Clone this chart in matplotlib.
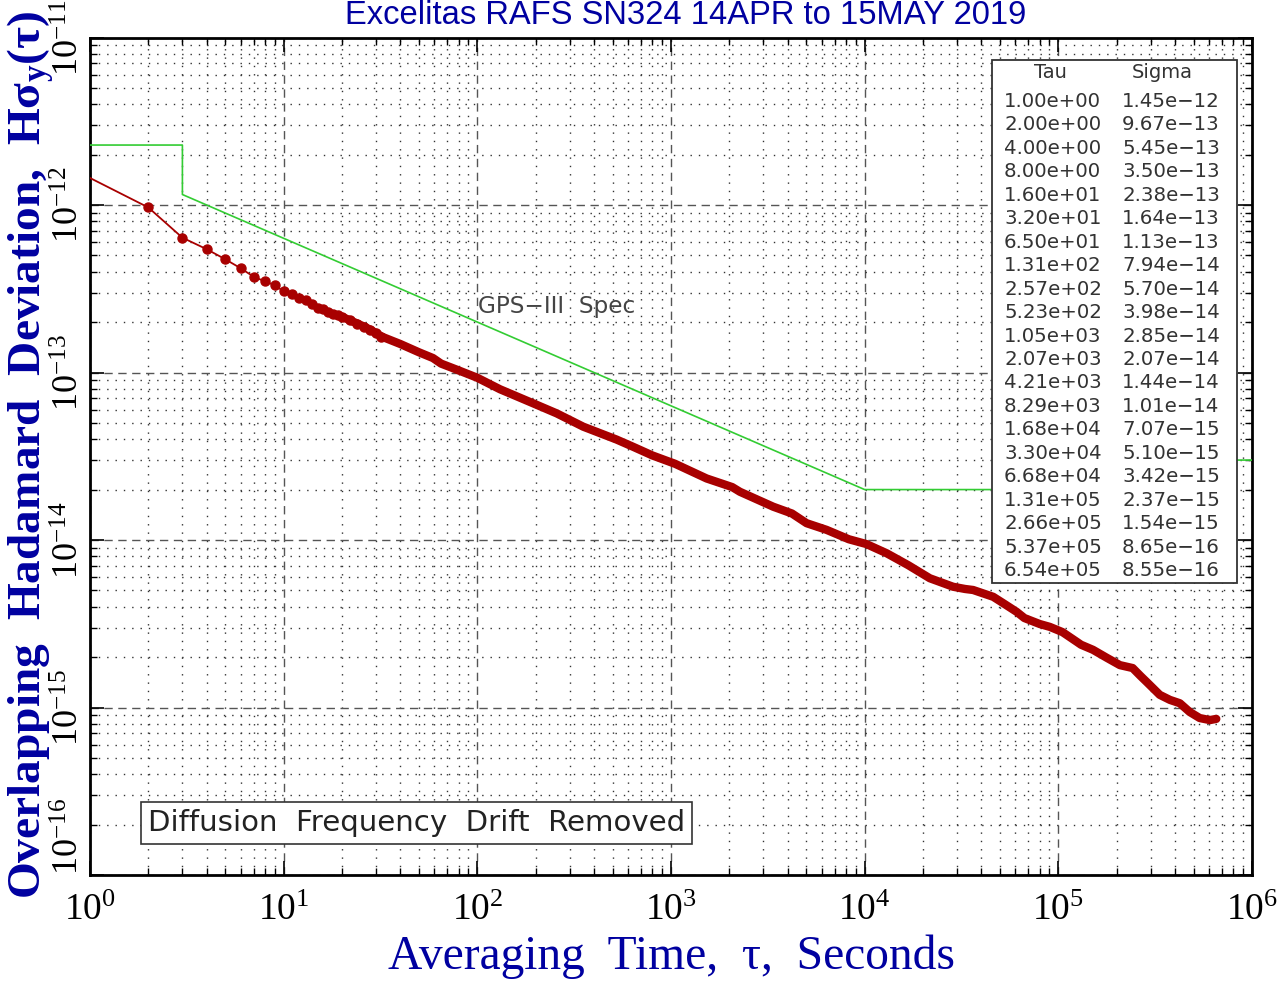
import numpy as np
import matplotlib
matplotlib.use("Agg")
import matplotlib.pyplot as plt
from matplotlib.ticker import LogLocator, NullFormatter, FixedLocator, FixedFormatter

plt.rcParams['mathtext.fontset'] = 'custom'
plt.rcParams['mathtext.rm'] = 'Liberation Serif'
plt.rcParams['mathtext.it'] = 'Liberation Serif:italic'
plt.rcParams['mathtext.bf'] = 'Liberation Serif:bold'

# Overlapping Hadamard deviation
tau = [1, 2, 3, 4, 5, 6, 7, 8, 9, 10, 11, 12, 13, 14, 15, 16, 17, 18, 19, 20,
       22, 24, 26, 28, 30, 32, 40, 50, 59, 65, 80, 100, 131, 160, 194, 257,
       352, 523, 638, 800, 1050, 1527, 2070, 2270, 3373, 4210, 5012, 6353,
       8290, 10200, 13000, 16800, 21700, 28600, 33000, 36300, 46100, 51700,
       60800, 66800, 80200, 90300, 105000, 125000, 131000, 151000, 178000,
       208000, 242000, 266000, 286000, 334000, 377000, 424000, 477000,
       537000, 606000, 654000]
sigma = [1.45e-12, 9.67e-13, 6.38e-13, 5.45e-13, 4.74e-13, 4.19e-13, 3.73e-13,
         3.50e-13, 3.32e-13, 3.05e-13, 2.93e-13, 2.80e-13, 2.70e-13, 2.56e-13,
         2.44e-13, 2.38e-13, 2.31e-13, 2.25e-13, 2.19e-13, 2.15e-13, 2.05e-13,
         1.96e-13, 1.88e-13, 1.80e-13, 1.72e-13, 1.64e-13, 1.48e-13, 1.32e-13,
         1.22e-13, 1.13e-13, 1.03e-13, 9.3e-14, 7.94e-14, 7.2e-14, 6.55e-14,
         5.70e-14, 4.75e-14, 3.98e-14, 3.6e-14, 3.2e-14, 2.85e-14, 2.33e-14,
         2.07e-14, 1.94e-14, 1.58e-14, 1.44e-14, 1.26e-14, 1.15e-14, 1.01e-14,
         9.46e-15, 8.33e-15, 7.07e-15, 5.91e-15, 5.26e-15, 5.10e-15, 5.03e-15,
         4.58e-15, 4.21e-15, 3.73e-15, 3.42e-15, 3.15e-15, 3.03e-15, 2.82e-15,
         2.46e-15, 2.37e-15, 2.21e-15, 1.98e-15, 1.79e-15, 1.72e-15, 1.54e-15,
         1.42e-15, 1.19e-15, 1.11e-15, 1.06e-15, 9.4e-16, 8.65e-16, 8.41e-16,
         8.55e-16]

# GPS-III spec breakpoints
spec_tau = [1, 3, 3, 1e4, 1e5, 1e5, 1e6]
spec_sigma = [2.28e-12, 2.28e-12, 1.155e-12, 2.0e-14, 2.0e-14, 3.0e-14, 3.0e-14]

# table in the box
table_tau = [1.00e+00, 2.00e+00, 4.00e+00, 8.00e+00, 1.60e+01, 3.20e+01, 6.50e+01,
             1.31e+02, 2.57e+02, 5.23e+02, 1.05e+03, 2.07e+03, 4.21e+03, 8.29e+03,
             1.68e+04, 3.30e+04, 6.68e+04, 1.31e+05, 2.66e+05, 5.37e+05, 6.54e+05]
table_sigma = [1.45e-12, 9.67e-13, 5.45e-13, 3.50e-13, 2.38e-13, 1.64e-13, 1.13e-13,
               7.94e-14, 5.70e-14, 3.98e-14, 2.85e-14, 2.07e-14, 1.44e-14, 1.01e-14,
               7.07e-15, 5.10e-15, 3.42e-15, 2.37e-15, 1.54e-15, 8.65e-16, 8.55e-16]

W, H = 1287, 985
fig = plt.figure(figsize=(W / 100, H / 100), dpi=100)
ax = fig.add_axes([90 / W, 1 - 875 / H, (1252 - 90) / W, (875 - 37.5) / H])

red = '#a80000'
green = '#33cc33'
blue = '#0000a0'


def ax_xy(px, py):
    # pixel position -> axes fraction
    return (px - 90) / (1252 - 90), 1 - (py - 37.5) / (875 - 37.5)


ax.plot(spec_tau, spec_sigma, color=green, lw=1.2, zorder=3)

t = np.array(tau)
s = np.array(sigma)
ax.plot(t, s, color=red, lw=1.3, zorder=4)
ax.plot(t[(t > 1) & (t <= 32)], s[(t > 1) & (t <= 32)], 'o', color=red,
        ms=6.5, zorder=5)
ax.plot(t[t >= 20], s[t >= 20], color=red, lw=6, solid_capstyle='round',
        solid_joinstyle='round', zorder=5)

ax.set_xscale('log')
ax.set_yscale('log')
ax.set_xlim(1, 1e6)
ax.set_ylim(1e-16, 1e-11)

# grid
ax.xaxis.set_minor_locator(LogLocator(base=10, subs=np.arange(2, 10), numticks=20))
ax.yaxis.set_minor_locator(LogLocator(base=10, subs=np.arange(2, 10), numticks=20))
ax.xaxis.set_minor_formatter(NullFormatter())
ax.yaxis.set_minor_formatter(NullFormatter())
ax.grid(which='major', linestyle=(0, (6, 4)), color='#555555', lw=1)
ax.grid(which='minor', linestyle=(0, (1, 5)), color='#333333', lw=1)
ax.set_axisbelow(True)

ax.xaxis.set_major_locator(FixedLocator([10.0 ** k for k in range(0, 7)]))
ax.xaxis.set_major_formatter(FixedFormatter(
    [r'$\mathregular{10^{%d}}$' % k for k in range(0, 7)]))
ax.yaxis.set_major_locator(FixedLocator([10.0 ** k for k in range(-16, -10)]))
ax.yaxis.set_major_formatter(FixedFormatter(
    [r'$\mathregular{10^{%d}}$' % k for k in range(-16, -10)]))
ax.tick_params(which='both', direction='in', top=True, right=True, colors='black')
ax.tick_params(which='major', length=10, width=1.2)
ax.tick_params(which='minor', length=5, width=1)
ax.tick_params(axis='x', pad=13, labelsize=27)
ax.tick_params(axis='y', pad=2, labelsize=26, labelrotation=90)
for lab in ax.get_xticklabels() + ax.get_yticklabels():
    lab.set_fontfamily('Liberation Serif')
ylabs = ax.get_yticklabels()
for lab in ylabs:
    lab.set_va('center')
ylabs[0].set_va('bottom')  # lowest label kept inside the frame
for sp in ax.spines.values():
    sp.set_linewidth(2)

# table box
tcol = '#333333'
ax.text(*ax_xy(1050, 73), 'Tau', transform=ax.transAxes, ha='center',
        va='center', fontsize=14, color=tcol, fontfamily='DejaVu Sans', zorder=11)
ax.text(*ax_xy(1162, 73), 'Sigma', transform=ax.transAxes, ha='center',
        va='center', fontsize=14, color=tcol, fontfamily='DejaVu Sans', zorder=11)
for i, (a, b) in enumerate(zip(table_tau, table_sigma)):
    py = 101.5 + i * 23.45
    ax.text(*ax_xy(1004, py), '{:.2e}'.format(a).replace('-', '\u2212'),
            transform=ax.transAxes, ha='left', va='center', fontsize=14.2,
            color=tcol, fontfamily='DejaVu Sans', zorder=11)
    ax.text(*ax_xy(1122, py), '{:.2e}'.format(b).replace('-', '\u2212'),
            transform=ax.transAxes, ha='left', va='center', fontsize=14.2,
            color=tcol, fontfamily='DejaVu Sans', zorder=11)
x0, y0 = ax_xy(992, 583)
box = plt.Rectangle((x0, y0), (1237 - 992) / (1252 - 90), (583 - 60) / (875 - 37.5),
                    transform=ax.transAxes, facecolor='white', edgecolor='#333333',
                    lw=1.3, zorder=10)
ax.add_patch(box)

gps = ax.text(*ax_xy(478, 307), 'GPS\u2212III  Spec', transform=ax.transAxes,
              ha='left', va='center', fontsize=15, color='#444444',
              fontfamily='DejaVu Sans', zorder=6)

fig.canvas.draw()
r = fig.canvas.get_renderer()


def fit(txt, target, vertical=False):
    bb = txt.get_window_extent(r)
    cur = bb.height if vertical else bb.width
    txt.set_fontsize(txt.get_fontsize() * target / cur)


fit(gps, 158)

dtxt = ax.text(*ax_xy(148, 823), 'Diffusion  Frequency  Drift  Removed',
               transform=ax.transAxes, ha='left', va='center', fontsize=18,
               color='#222222', fontfamily='DejaVu Sans', zorder=8,
               bbox=dict(boxstyle='square,pad=0.25', facecolor='white',
                         edgecolor='#333333', lw=1.2))
fit(dtxt, 538)

title = fig.text(686 / W, 1 - 15 / H, 'Excelitas RAFS SN324 14APR to 15MAY 2019',
                 ha='center', va='center', fontsize=20, color=blue,
                 fontfamily='Liberation Sans')
fit(title, 682)

xl = fig.text(672 / W, 1 - 957 / H, 'Averaging  Time,  \u03c4,  Seconds',
              ha='center', va='center', fontsize=28, color=blue,
              fontfamily='Liberation Serif')
fit(xl, 568)

yl = fig.text(31 / W, 1 - 455 / H,
              'Overlapping  Hadamard  Deviation,  H\u03c3$_\\mathbf{y}$(\u03c4)',
              ha='center', va='center', rotation=90, fontsize=32, color=blue,
              fontfamily='Liberation Serif', fontweight='bold')
fit(yl, 890, vertical=True)

fig.savefig('out.png', dpi=100)
